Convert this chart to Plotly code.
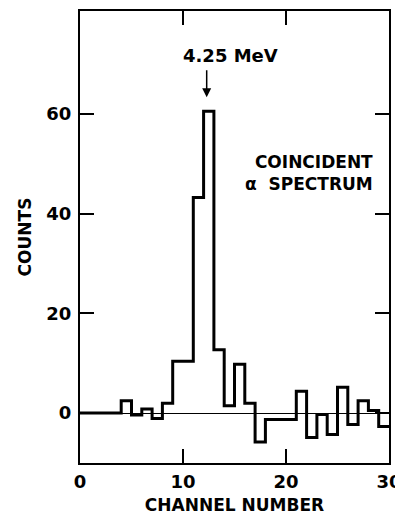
import plotly.graph_objects as go

# Bin edges (channel number) and counts per channel bin
channel_edges = list(range(0, 31))
counts = [0, 0, 0, 0, 2.5, -0.4, 0.8, -1.1, 2.0, 10.4,
          10.4, 43.2, 60.5, 12.7, 1.5, 9.8, 2.0, -5.8, -1.3, -1.3,
          -1.3, 4.4, -4.9, -0.3, -4.3, 5.2, -2.3, 2.5, 0.5, -2.7]
x_ticks = [0, 10, 20, 30]
y_ticks = [0, 20, 40, 60]

peak_channel = 12.3
peak_label = "4.25 MeV"
series_label = "COINCIDENT<br>α  SPECTRUM"

FONT = "DejaVu Sans"

y_step = counts + [counts[-1]]

fig = go.Figure()
fig.add_trace(go.Scatter(
    x=channel_edges, y=y_step, mode="lines", line_shape="hv",
    line=dict(color="black", width=3), showlegend=False, hoverinfo="skip"))

axis_common = dict(
    showgrid=False, ticks="inside", ticklen=14, tickwidth=1.5, tickcolor="black",
    showline=True, linecolor="black", linewidth=2, mirror="ticks",
    tickfont=dict(family=FONT, size=18, color="black", weight="bold"))

fig.update_xaxes(range=[0, 30], tickvals=x_ticks, zeroline=False,
                 ticklabelstandoff=1,
                 title=dict(text="CHANNEL NUMBER", standoff=11,
                            font=dict(family=FONT, size=17, color="black", weight="bold")),
                 **axis_common)
fig.update_yaxes(range=[-10, 80.6], tickvals=y_ticks, zeroline=True,
                 zerolinecolor="black", zerolinewidth=1, ticklabelstandoff=3,
                 title=dict(text="COUNTS", standoff=10,
                            font=dict(family=FONT, size=17, color="black", weight="bold")),
                 **axis_common)

fig.add_annotation(x=peak_channel, y=63.3, ax=peak_channel, ay=69,
                   xref="x", yref="y", axref="x", ayref="y",
                   text="", showarrow=True, arrowhead=2, arrowsize=1.2,
                   arrowwidth=1.5, arrowcolor="black")
fig.add_annotation(x=14.6, y=71.6, xref="x", yref="y", text=peak_label,
                   showarrow=False, yanchor="middle",
                   font=dict(family=FONT, size=18, color="black", weight="bold"))
fig.add_annotation(x=28.6, y=48.2, xref="x", yref="y", text=series_label,
                   showarrow=False, xanchor="right", yanchor="middle", align="right",
                   font=dict(family=FONT, size=17, color="black", weight="bold"))

# The page body has an 8px default margin; size the figure so the plot area
# lands where the reference has it without making the page scroll.
fig.update_layout(
    width=395, height=507, margin=dict(l=72, r=14, t=1, b=50),
    plot_bgcolor="white", paper_bgcolor="white",
    font=dict(family=FONT, color="black"))

fig.write_html("out.html", config={"displayModeBar": False})
